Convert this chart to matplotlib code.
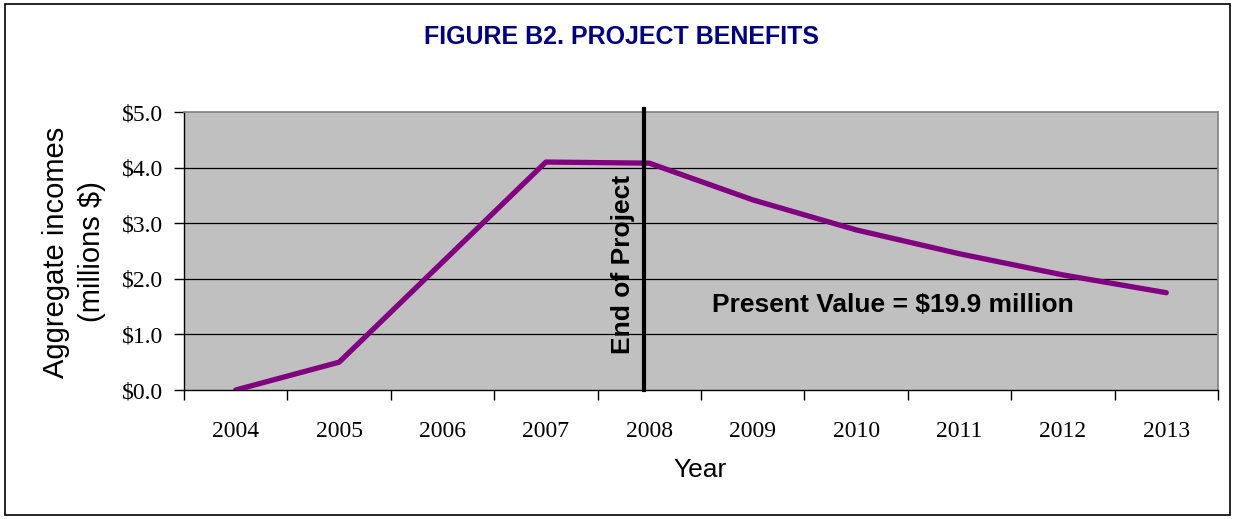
import matplotlib
matplotlib.use("Agg")
import matplotlib.pyplot as plt
from matplotlib.patches import Rectangle
from matplotlib.ticker import FixedLocator, FuncFormatter

years = ["2004", "2005", "2006", "2007", "2008", "2009", "2010", "2011", "2012", "2013"]
benefits = [0.0, 0.50, 2.30, 4.10, 4.08, 3.42, 2.88, 2.45, 2.07, 1.75]
end_year = "2008"
y_ticks = [0.0, 1.0, 2.0, 3.0, 4.0, 5.0]

title = "FIGURE B2. PROJECT BENEFITS"
ylabel = "Aggregate incomes\n(millions $)"
xlabel = "Year"
end_label = "End of Project"
pv_label = "Present Value = $19.9 million"

W, H = 1235, 519
fig = plt.figure(figsize=(W / 100, H / 100), dpi=100)
fig.patch.set_facecolor("white")

# figure border
fig.add_artist(Rectangle((5 / W, 4 / H), 1225 / W, 511 / H, transform=fig.transFigure,
                         fill=False, edgecolor="black", linewidth=1.2))

ax = fig.add_axes([184 / W, 1 - 390 / H, (1218 - 184) / W, (390 - 112) / H])
ax.set_facecolor("#C0C0C0")

x = list(range(len(years)))
ax.set_xlim(-0.5, len(years) - 0.5)
ax.set_ylim(0, 5)

for v in y_ticks[1:-1]:
    ax.axhline(v, color="black", linewidth=0.9, zorder=1)

ax.plot(x, benefits, color="#800080", linewidth=3.8, solid_capstyle="round",
        solid_joinstyle="round", zorder=3)

xe = years.index(end_year) - 0.05
ax.plot([xe, xe], [0, 5.05], color="black", linewidth=3.0, clip_on=False, zorder=4)

ax.text(xe - 0.2, 2.25, end_label, rotation=90, ha="center", va="center",
        fontsize=19, fontweight="bold", family="Liberation Sans", zorder=5)
ax.text(6.36, 1.53, pv_label, ha="center", va="center",
        fontsize=19, fontweight="bold", family="Liberation Sans", zorder=5)

# spines
for s in ["top", "right"]:
    ax.spines[s].set_color("#808080")
    ax.spines[s].set_linewidth(1.2)
for s in ["left", "bottom"]:
    ax.spines[s].set_color("black")
    ax.spines[s].set_linewidth(1.0)

ax.set_yticks(y_ticks)
ax.yaxis.set_major_formatter(FuncFormatter(lambda v, p: f"${v:.1f}"))
ax.tick_params(axis="y", direction="out", length=7, width=1, pad=8, labelsize=17)
for lab in ax.get_yticklabels():
    lab.set_family("Liberation Serif")

ax.set_xticks(x)
ax.set_xticklabels(years, family="Liberation Serif", fontsize=17)
ax.tick_params(axis="x", which="major", length=0, pad=22)
ax.xaxis.set_minor_locator(FixedLocator([i - 0.5 for i in range(len(years) + 1)]))
ax.tick_params(axis="x", which="minor", direction="out", length=7, width=1)

fig.text(700 / W, 1 - 470 / H, xlabel, ha="center", va="center", fontsize=19,
         family="Liberation Sans")
fig.text(74 / W, 1 - 252 / H, ylabel, ha="center", va="center", rotation=90,
         fontsize=21, family="Liberation Sans", linespacing=1.4, multialignment="center")

fig.text(622 / W, 1 - 37 / H, title, ha="center", va="center", fontsize=18,
         fontweight="bold", color="#000080", family="Liberation Sans")

fig.savefig("out.png", dpi=100)
